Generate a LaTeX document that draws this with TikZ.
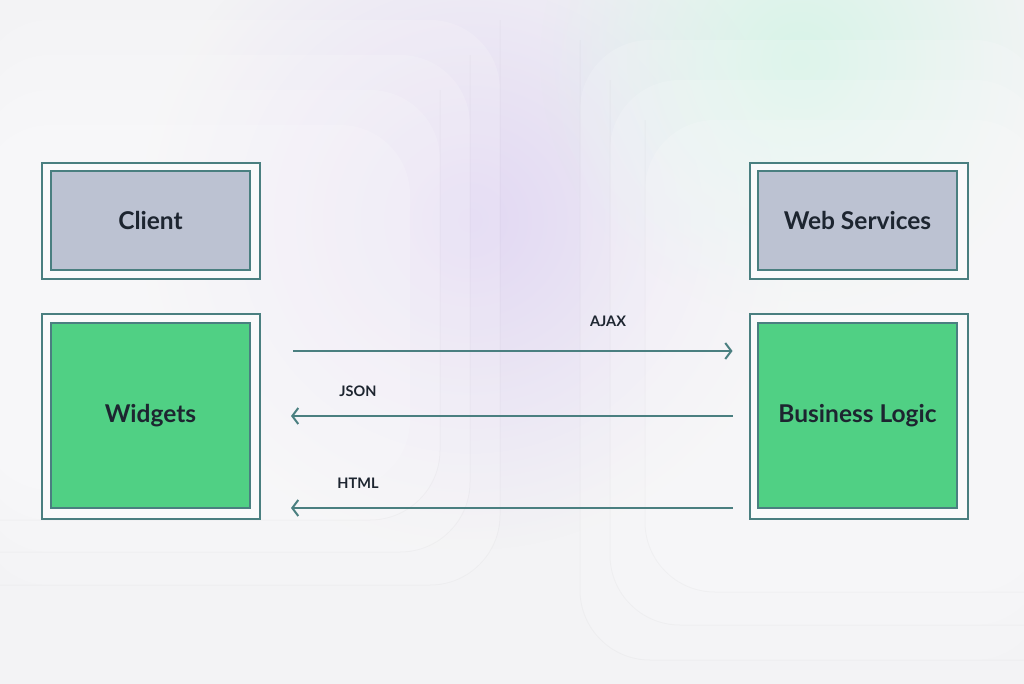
\documentclass[tikz,border=0pt]{standalone}
\usepackage{fontspec}
\setmainfont{Lato}
\usetikzlibrary{arrows.meta,fadings}
\tikzfading[name=glowfade, inner color=transparent!0, outer color=transparent!100]
\definecolor{bgc}{HTML}{F3F3F5}
\definecolor{teal}{HTML}{4A7F80}
\definecolor{greyfill}{HTML}{BCC2D2}
\definecolor{greenfill}{HTML}{50D084}
\definecolor{ink}{HTML}{1D2530}
\definecolor{glowp}{HTML}{E2D8F3}
\definecolor{glowg}{HTML}{D8F3E8}
\tikzset{
  outerbox/.style={draw=teal, line width=2pt, fill=bgc!40!white, minimum width=218pt, inner sep=0pt},
  innerbox/.style={draw=teal, line width=2pt, minimum width=199pt, inner sep=0pt, font=\bfseries\fontsize{24.5}{27}\selectfont, text=ink},
  greybox/.style={innerbox, fill=greyfill},
  greenbox/.style={innerbox, fill=greenfill},
  arr/.style={draw=teal, line width=2pt, -{Straight Barb[length=6pt,width=16pt,line width=2pt]}},
  lbl/.style={font=\bfseries\fontsize{14.5}{16}\selectfont, text=ink, inner sep=0pt},
  panel/.style={fill=white, opacity=0.16, rounded corners=70pt},
  panelline/.style={draw=black, line width=1pt, opacity=0.025, rounded corners=70pt}
}
\begin{document}
\begin{tikzpicture}[x=1pt,y=-1pt]
\useasboundingbox (0,0) rectangle (1024,684);
\fill[bgc] (0,0) rectangle (1024,684);
\fill[glowp, path fading=glowfade] (470,220) circle (330);
\fill[glowg, path fading=glowfade] (800,60) circle (260);
% faint background panels
\fill[panel] (-20,20) -- (500,20) -- (500,585) -- (-20,585) -- cycle;
\fill[panel] (-20,55) -- (470,55) -- (470,552) -- (-20,552) -- cycle;
\fill[panel] (-20,90) -- (440,90) -- (440,520) -- (-20,520) -- cycle;
\fill[panel] (-20,125) -- (410,125) -- (410,490) -- (-20,490) -- cycle;
\draw[panelline] (-20,585) -- (500,585) -- (500,20);
\draw[panelline] (-20,552) -- (470,552) -- (470,55);
\draw[panelline] (-20,520) -- (440,520) -- (440,90);
\fill[panel] (1044,40) -- (580,40) -- (580,660) -- (1044,660) -- cycle;
\fill[panel] (1044,80) -- (610,80) -- (610,625) -- (1044,625) -- cycle;
\fill[panel] (1044,120) -- (645,120) -- (645,592) -- (1044,592) -- cycle;
\draw[panelline] (1044,660) -- (580,660) -- (580,40);
\draw[panelline] (1044,625) -- (610,625) -- (610,80);
\draw[panelline] (1044,592) -- (645,592) -- (645,120);
% boxes
\node[outerbox, minimum height=116pt] (co) at (151,221) {};
\node[greybox, minimum height=99pt] (client) at (150.5,220.5) {Client};
\node[outerbox, minimum height=205pt] (wo) at (151,416.5) {};
\node[greenbox, minimum height=185pt] (widgets) at (150.5,415.5) {Widgets};
\node[outerbox, minimum height=116pt] (wso) at (858.5,221) {};
\node[greybox, minimum height=99pt] (ws) at (857.5,220.5) {Web Services};
\node[outerbox, minimum height=205pt] (blo) at (858.5,416.5) {};
\node[greenbox, minimum height=185pt] (bl) at (857.5,415.5) {Business Logic};
% arrows
\coordinate (yajax) at (0,351);
\coordinate (yjson) at (0,416);
\coordinate (yhtml) at (0,508);
\draw[arr, shorten <=32pt, shorten >=16pt] (wo.east |- yajax) -- (blo.west |- yajax);
\draw[arr, shorten <=16pt, shorten >=30pt] (blo.west |- yjson) -- (wo.east |- yjson);
\draw[arr, shorten <=16pt, shorten >=30pt] (blo.west |- yhtml) -- (wo.east |- yhtml);
% labels
\node[lbl] (lajax) at (608,321) {AJAX};
\node[lbl] (ljson) at (358,391) {JSON};
\node[lbl] (lhtml) at (358,483) {HTML};
\end{tikzpicture}
\end{document}
